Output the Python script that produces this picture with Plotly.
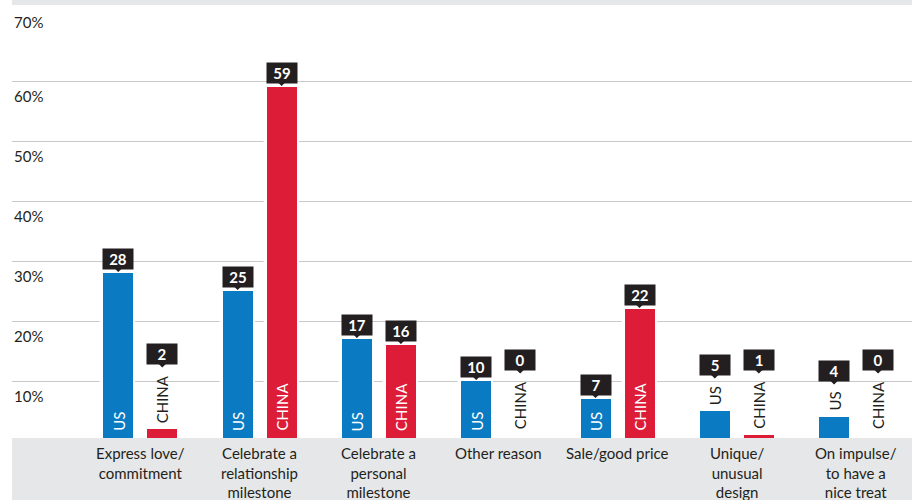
import plotly.graph_objects as go

# ---- data -------------------------------------------------------------
categories = [
    "Express love/<br>commitment",
    "Celebrate a<br>relationship<br>milestone",
    "Celebrate a<br>personal<br>milestone",
    "Other reason",
    "Sale/good price",
    "Unique/<br>unusual<br>design",
    "On impulse/<br>to have a<br>nice treat",
]
us_values = [28, 25, 17, 10, 7, 5, 4]
china_values = [2, 59, 16, 0, 22, 1, 0]
series_names = ["US", "CHINA"]
y_ticks = [10, 20, 30, 40, 50, 60, 70]
y_tick_labels = ["10%", "20%", "30%", "40%", "50%", "60%", "70%"]

# ---- style --------------------------------------------------------------
BLUE = "#0a7bc2"
RED = "#dd1c38"
INK = "#231f20"
BAND = "#e6e7e8"
GRID = "#c9c9c9"
FONT = "Lato"

W, H = 912, 500
M_L, M_R, M_T, M_B = 12, 0, 0, 59
Y_MAX = 73.5
PX_PER_UNIT = (H - M_T - M_B) / Y_MAX

BAR_W = 0.2515          # bar width in category units
BAR_SHIFT = 0.1844      # distance of each bar centre from the category centre
X_RANGE = [-1.0755, 6.4686]

# rotated series-name label lengths (px) used to stack the value box above it
NAME_LEN = {"US": 19, "CHINA": 48}

idx = list(range(len(categories)))
series = [(series_names[0], us_values, BLUE, -BAR_SHIFT),
          (series_names[1], china_values, RED, BAR_SHIFT)]

fig = go.Figure()

# white backing bars open a small gap in the gridlines around each bar
for name, vals, color, shift in series:
    fig.add_trace(go.Bar(
        x=idx, y=vals, width=BAR_W, offset=shift - BAR_W / 2,
        marker=dict(color="white", line=dict(color="white", width=5.4)),
        hoverinfo="skip", showlegend=False,
    ))
for name, vals, color, shift in series:
    fig.add_trace(go.Bar(
        x=idx, y=vals, width=BAR_W, offset=shift - BAR_W / 2,
        marker=dict(color=color, line=dict(width=0)),
        name=name, showlegend=False,
    ))

annotations = []

# y tick labels sit just under their gridlines
for v, lab in zip(y_ticks, y_tick_labels):
    annotations.append(dict(
        x=0, xref="paper", xanchor="left", y=v, yref="y", yanchor="middle",
        yshift=-1 if v == 70 else -14.5, text=lab, showarrow=False,
        font=dict(family=FONT, size=15, color=INK),
    ))

# category labels in the bottom band
for i, cat in enumerate(categories):
    annotations.append(dict(
        x=i, xref="x", xanchor="center", y=0, yref="paper", yanchor="top",
        yshift=-0.5, text=cat, showarrow=False, align="center",
        font=dict(family=FONT, size=15, color=INK),
    ))

# series names (rotated) and value call-out boxes
for name, vals, color, shift in series:
    for i, v in enumerate(vals):
        xpos = i + shift
        inside = v * PX_PER_UNIT >= NAME_LEN[name] + 14
        if inside:
            annotations.append(dict(
                x=xpos, xref="x", xanchor="center", y=0, yref="y",
                yanchor="bottom", yshift=8, text=name, textangle=-90,
                showarrow=False, font=dict(family=FONT, size=15, color="white"),
            ))
            box_y, box_shift = v, 1
        else:
            base = max(v, 1)
            annotations.append(dict(
                x=xpos, xref="x", xanchor="center", y=base, yref="y",
                yanchor="bottom", yshift=4, text=name, textangle=-90,
                showarrow=False, font=dict(family=FONT, size=15, color=INK),
            ))
            box_y, box_shift = base, 4 + NAME_LEN[name] + 9.5
        annotations.append(dict(
            x=xpos, xref="x", y=box_y, yref="y", yshift=box_shift,
            text=f"<b>{v}</b>", showarrow=True, ax=0, ay=-13.5,
            arrowhead=1, arrowsize=1.2, arrowwidth=1, arrowcolor=INK,
            standoff=0, bgcolor=INK, width=26, height=16, borderpad=2,
            font=dict(family=FONT, size=15, color="white"),
        ))

shapes = [
    # bottom label band
    dict(type="rect", xref="paper", yref="paper", x0=0, x1=1,
         y0=-M_B / (H - M_T - M_B) - 0.01, y1=3 / (H - M_T - M_B),
         fillcolor=BAND, line=dict(width=0), layer="above"),
    # thin top band
    dict(type="rect", xref="paper", yref="paper", x0=0, x1=1,
         y0=1 - 5 / (H - M_T - M_B), y1=1.01,
         fillcolor=BAND, line=dict(width=0), layer="above"),
]

fig.update_layout(
    width=W, height=H,
    margin=dict(l=M_L, r=M_R, t=M_T, b=M_B),
    paper_bgcolor="white", plot_bgcolor="white",
    barmode="overlay", bargap=0,
    xaxis=dict(type="linear", range=X_RANGE, showgrid=False, zeroline=False,
               showticklabels=False, ticks="", fixedrange=True),
    yaxis=dict(range=[0, Y_MAX], tickvals=y_ticks[:-1], showticklabels=False,
               showgrid=True, gridcolor=GRID, gridwidth=1, zeroline=False,
               ticks="", fixedrange=True),
    annotations=annotations, shapes=shapes,
    showlegend=False,
)

fig.write_html("out.html")
